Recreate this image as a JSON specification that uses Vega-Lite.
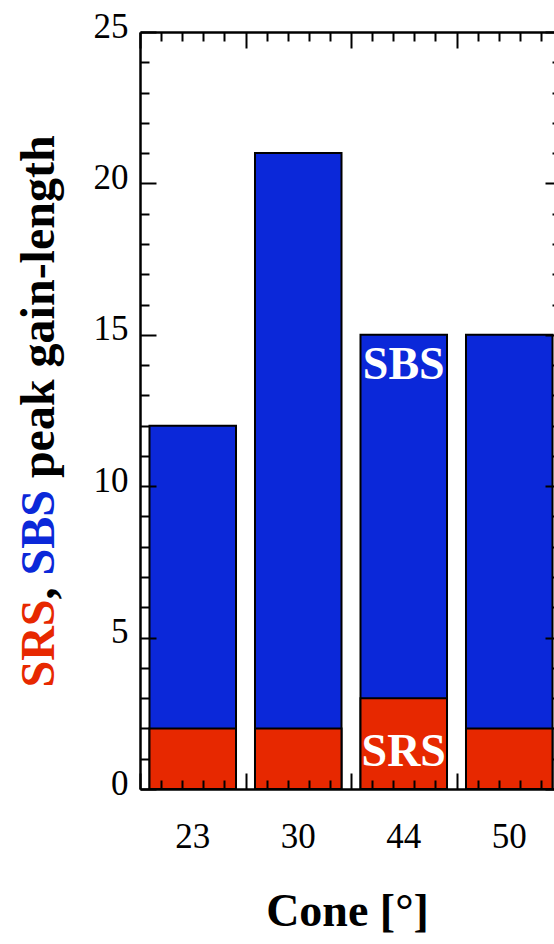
{
  "$schema": "https://vega.github.io/schema/vega-lite/v6.json",
  "width": 414,
  "height": 757,
  "autosize": {"type": "none"},
  "padding": {"left": 140, "top": 32, "right": 0, "bottom": 155},
  "config": {"view": {"stroke": null}, "font": "Liberation Serif", "axis": {"grid": false}},
  "data": {
    "values": [
      {"cone": "23", "srs": 2, "sbs": 12},
      {"cone": "30", "srs": 2, "sbs": 21},
      {"cone": "44", "srs": 3, "sbs": 15},
      {"cone": "50", "srs": 2, "sbs": 15}
    ]
  },
  "layer": [
    {
      "layer": [
        {
          "mark": {"type": "bar", "color": "#0b28d9", "stroke": "black", "strokeWidth": 2},
          "encoding": {
            "x": {
              "field": "cone", "type": "nominal", "sort": null,
              "scale": {"range": [0, 422], "paddingInner": 0.18, "paddingOuter": 0.09},
              "axis": {
                "orient": "bottom", "labelAngle": 0, "ticks": false, "tickSize": 0, "domain": false,
                "labelFont": "Liberation Serif", "labelFontSize": 35, "labelColor": "black",
                "labelBaseline": "alphabetic", "labelPadding": 58,
                "title": "Cone [°]", "titleFont": "Liberation Serif", "titleFontSize": 46,
                "titleFontWeight": "bold", "titleColor": "black", "titleX": 207, "titleY": 136,
                "titleBaseline": "alphabetic", "titleAlign": "center", "zindex": 1
              }
            },
            "y": {
              "field": "sbs", "type": "quantitative",
              "scale": {"domain": [0, 25], "nice": false, "zero": true},
              "axis": {
                "orient": "left", "values": [0, 5, 10, 15, 20, 25], "ticks": false, "tickSize": 0,
                "domain": true, "domainColor": "black", "domainWidth": 2.5,
                "labelFont": "Liberation Serif", "labelFontSize": 35, "labelColor": "black",
                "labelPadding": 12, "labelBaseline": "alphabetic", "labelOffset": 5,
                "title": "peak gain-length", "titleFont": "Liberation Serif", "titleFontSize": 48,
                "titleFontWeight": "bold", "titleColor": "black", "titleAngle": 270,
                "titleAlign": "left", "titleBaseline": "alphabetic", "titleX": -87, "titleY": 445.6,
                "zindex": 1
              }
            }
          }
        },
        {
          "mark": {"type": "bar", "color": "#e72800", "stroke": "black", "strokeWidth": 2},
          "encoding": {
            "x": {"field": "cone", "type": "nominal", "sort": null},
            "y": {"field": "srs", "type": "quantitative"}
          }
        },
        {
          "transform": [{"filter": "datum.cone === '44'"}],
          "mark": {"type": "text", "text": "SBS", "color": "white", "font": "Liberation Serif", "fontSize": 46, "fontWeight": "bold", "baseline": "alphabetic", "dy": 44},
          "encoding": {
            "x": {"field": "cone", "type": "nominal", "sort": null},
            "y": {"field": "sbs", "type": "quantitative"}
          }
        },
        {
          "transform": [{"filter": "datum.cone === '44'"}],
          "mark": {"type": "text", "text": "SRS", "color": "white", "font": "Liberation Serif", "fontSize": 46, "fontWeight": "bold", "baseline": "alphabetic", "dy": 68},
          "encoding": {
            "x": {"field": "cone", "type": "nominal", "sort": null},
            "y": {"field": "srs", "type": "quantitative"}
          }
        }
      ]
    },
    {
      "mark": {"type": "point", "opacity": 0},
      "encoding": {
        "x": {
          "datum": 0, "type": "quantitative",
          "scale": {"domain": [0, 4], "range": [0, 422], "nice": false},
          "axis": {
            "orient": "bottom", "values": [0, 0.2, 0.4, 0.6, 0.8, 1, 1.2, 1.4, 1.6, 1.8, 2, 2.2, 2.4, 2.6, 2.8, 3, 3.2, 3.4, 3.6, 3.8, 4],
            "labels": false, "title": null, "domain": true, "domainColor": "black", "domainWidth": 2.5,
            "tickColor": "black", "tickWidth": 2,
            "tickSize": {"condition": {"test": "datum.value % 1 === 0", "value": -16}, "value": -9},
            "zindex": 2
          }
        },
        "y": {
          "datum": 0, "type": "quantitative",
          "scale": {"domain": [0, 25], "nice": false},
          "axis": {
            "orient": "left", "values": [0, 1, 2, 3, 4, 5, 6, 7, 8, 9, 10, 11, 12, 13, 14, 15, 16, 17, 18, 19, 20, 21, 22, 23, 24, 25],
            "labels": false, "title": null, "domain": false,
            "tickColor": "black", "tickWidth": 2,
            "tickSize": {"condition": {"test": "datum.value % 5 === 0", "value": -16}, "value": -9},
            "zindex": 2
          }
        }
      }
    },
    {
      "mark": {"type": "point", "opacity": 0},
      "encoding": {
        "x": {
          "datum": 0, "type": "quantitative",
          "scale": {"domain": [0, 4], "range": [0, 422], "nice": false},
          "axis": {
            "orient": "top", "values": [0, 0.2, 0.4, 0.6, 0.8, 1, 1.2, 1.4, 1.6, 1.8, 2, 2.2, 2.4, 2.6, 2.8, 3, 3.2, 3.4, 3.6, 3.8, 4],
            "labels": false, "title": null, "domain": true, "domainColor": "black", "domainWidth": 2.5,
            "tickColor": "black", "tickWidth": 2,
            "tickSize": {"condition": {"test": "datum.value % 1 === 0", "value": -16}, "value": -9},
            "zindex": 2
          }
        },
        "y": {
          "datum": 0, "type": "quantitative",
          "scale": {"domain": [0, 25], "nice": false},
          "axis": {
            "orient": "right", "offset": 7, "values": [0, 1, 2, 3, 4, 5, 6, 7, 8, 9, 10, 11, 12, 13, 14, 15, 16, 17, 18, 19, 20, 21, 22, 23, 24, 25],
            "labels": false, "title": null, "domain": true, "domainColor": "black", "domainWidth": 2.5,
            "tickColor": "black", "tickWidth": 2,
            "tickSize": {"condition": {"test": "datum.value % 5 === 0", "value": -16}, "value": -9},
            "zindex": 2
          }
        }
      }
    },
    {
      "mark": {"type": "point", "opacity": 0},
      "encoding": {
        "y": {
          "datum": 0, "type": "quantitative",
          "scale": {"domain": [0, 25], "nice": false},
          "axis": {
            "orient": "left", "labels": false, "ticks": false, "domain": false,
            "title": "SRS", "titleFont": "Liberation Serif", "titleFontSize": 48,
            "titleFontWeight": "bold", "titleColor": "#e72800", "titleAngle": 270,
            "titleAlign": "left", "titleBaseline": "alphabetic", "titleX": -87, "titleY": 655
          }
        }
      }
    },
    {
      "mark": {"type": "point", "opacity": 0},
      "encoding": {
        "y": {
          "datum": 0, "type": "quantitative",
          "scale": {"domain": [0, 25], "nice": false},
          "axis": {
            "orient": "left", "labels": false, "ticks": false, "domain": false,
            "title": ",", "titleFont": "Liberation Serif", "titleFontSize": 48,
            "titleFontWeight": "bold", "titleColor": "black", "titleAngle": 270,
            "titleAlign": "left", "titleBaseline": "alphabetic", "titleX": -87, "titleY": 567
          }
        }
      }
    },
    {
      "mark": {"type": "point", "opacity": 0},
      "encoding": {
        "y": {
          "datum": 0, "type": "quantitative",
          "scale": {"domain": [0, 25], "nice": false},
          "axis": {
            "orient": "left", "labels": false, "ticks": false, "domain": false,
            "title": "SBS", "titleFont": "Liberation Serif", "titleFontSize": 48,
            "titleFontWeight": "bold", "titleColor": "#0b28d9", "titleAngle": 270,
            "titleAlign": "left", "titleBaseline": "alphabetic", "titleX": -87, "titleY": 543
          }
        }
      }
    }
  ],
  "resolve": {
    "scale": {"x": "independent", "y": "independent"},
    "axis": {"x": "independent", "y": "independent"}
  }
}
